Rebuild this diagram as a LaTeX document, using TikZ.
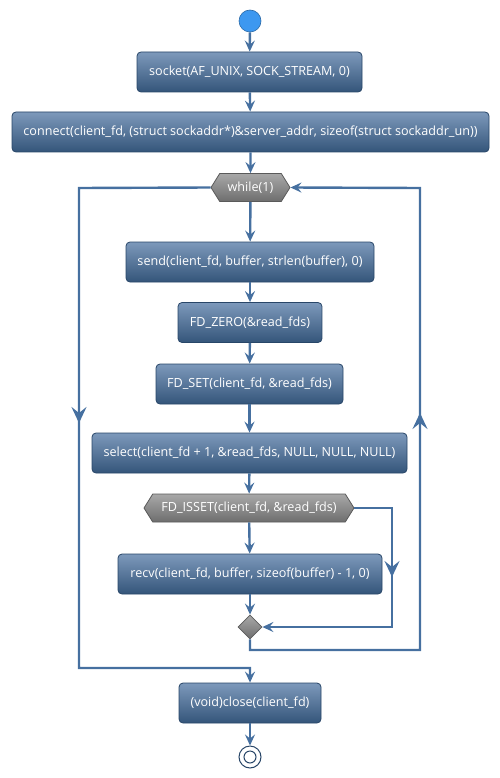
\documentclass[tikz,border=0pt]{standalone}
\usepackage{fontspec}
\setmainfont{Open Sans}
\usetikzlibrary{arrows.meta,shapes.symbols,shapes.geometric,decorations.markings}
\definecolor{linec}{HTML}{4670A0}
\definecolor{boxtop}{HTML}{7D99BB}
\definecolor{boxbot}{HTML}{34557A}
\definecolor{boxborder}{HTML}{284668}
\definecolor{hextop}{HTML}{A8A8A8}
\definecolor{hexbot}{HTML}{6E6E6E}
\definecolor{hexborder}{HTML}{5A5A5A}
\definecolor{startc}{HTML}{3D98F0}
\tikzset{
  actbox/.style={draw=boxborder, line width=0.8pt, rounded corners=4pt,
    top color=boxtop, bottom color=boxbot, text=white,
    minimum height=40pt, inner sep=0pt,
    font=\fontsize{12.6}{14}\selectfont},
  condhex/.style={shape=signal, signal to=east and west, signal pointer angle=116,
    draw=hexborder, line width=0.8pt, top color=hextop, bottom color=hexbot,
    text=white, minimum height=28pt, inner xsep=0pt, inner ysep=0pt,
    font=\fontsize{12.6}{14}\selectfont},
  flow/.style={draw=linec, line width=2.4pt, -{Stealth[length=11pt,width=10pt,inset=4pt]}},
  plainflow/.style={draw=linec, line width=2.4pt},
  bigtip/.style={-{Stealth[length=16pt,width=15pt,inset=6pt]}},
}
\begin{document}
\begin{tikzpicture}[x=1pt,y=-1pt]
\useasboundingbox (0,0) rectangle (499,778);
\node[circle, draw=startc!70!black, line width=0.6pt, fill=startc, minimum size=22pt, inner sep=0pt] (start) at (250,21) {};
\node[actbox, minimum width=225pt] (socket) at (249.5,72) {socket(AF\_UNIX, SOCK\_STREAM, 0)};
\node[actbox, minimum width=477pt] (connect) at (250.5,132) {connect(client\_fd, (struct sockaddr*)\&server\_addr, sizeof(struct sockaddr\_un))};
\node[condhex, minimum width=79pt] (while) at (250.5,187.5) {while(1)};
\node[actbox, minimum width=248pt] (send) at (250,262) {send(client\_fd, buffer, strlen(buffer), 0)};
\node[actbox, minimum width=144pt] (zero) at (250,322.5) {FD\_ZERO(\&read\_fds)};
\node[actbox, minimum width=187pt] (fdset) at (249.5,384) {FD\_SET(client\_fd, \&read\_fds)};
\node[actbox, minimum width=315pt] (select) at (249.5,453) {select(client\_fd + 1, \&read\_fds, NULL, NULL, NULL)};
\node[condhex, minimum width=210pt] (isset) at (249,508) {FD\_ISSET(client\_fd, \&read\_fds)};
\node[actbox, minimum width=264pt] (recv) at (250,574) {recv(client\_fd, buffer, sizeof(buffer) - 1, 0)};
\node[diamond, draw=hexborder, line width=0.8pt, top color=hextop, bottom color=hexbot, minimum size=24pt, inner sep=0pt] (merge) at (250,627) {};
\node[actbox, minimum width=142pt] (close) at (250,703) {(void)close(client\_fd)};
\node[circle, draw=boxborder, line width=1pt, fill=white, minimum size=22pt, inner sep=0pt] (stop) at (250,757) {};
\node[circle, draw=boxborder, line width=1pt, minimum size=12pt, inner sep=0pt] (stopin) at (250,757) {};

\coordinate (isr) at (392,508);
\coordinate (isrb) at (392,627);
\coordinate (mb) at (250,650);
\coordinate (rb) at (420,650);
\coordinate (rt) at (420,188);
\coordinate (lt) at (79,188);
\coordinate (lb) at (79,668);
\coordinate (lc) at (250,668);

\draw[flow] (start) -- (socket);
\draw[flow] (socket) -- (connect);
\draw[flow] (connect) -- (while);
\draw[flow] (while) -- (send);
\draw[flow] (send) -- (zero);
\draw[flow] (zero) -- (fdset);
\draw[flow] (fdset) -- (select);
\draw[flow] (select) -- (isset);
\draw[flow] (isset) -- (recv);
\draw[flow] (recv) -- (merge);
\draw[flow] (close) -- (stop);

\draw[flow] (isset.east) -- (isr) -- (isrb) -- (merge.east);
\draw[flow] (merge.south) -- (mb) -- (rb) -- (rt) -- (while.east);
\draw[flow] (while.west) -- (lt) -- (lb) -- (lc) -- (close.north);

\draw[plainflow, bigtip] (isr) -- (392,577);
\draw[plainflow, bigtip] (rb) -- (420,413);
\draw[plainflow, bigtip] (lt) -- (79,423);
\end{tikzpicture}
\end{document}
